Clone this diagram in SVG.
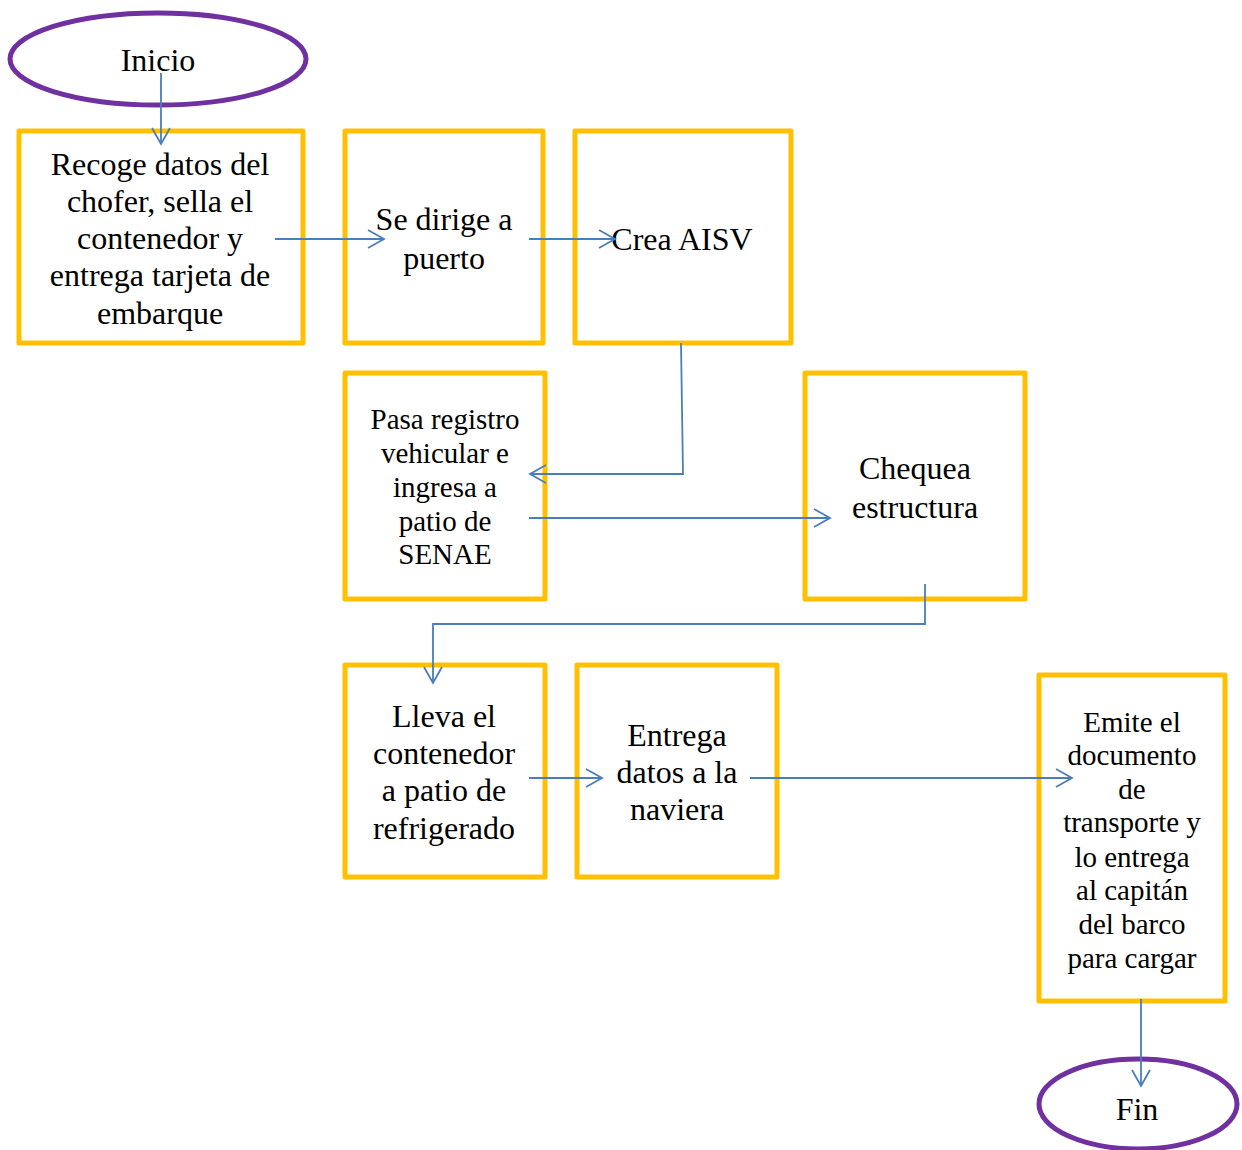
<svg xmlns="http://www.w3.org/2000/svg" width="1242" height="1150" viewBox="0 0 1242 1150">
<defs>
<style>
.box{fill:#fff;stroke:#FFC000;stroke-width:5;stroke-linejoin:round}
.term{fill:#fff;stroke:#7030A0;stroke-width:5}
.t{font-family:"Liberation Serif","Times New Roman",serif;fill:#000;text-anchor:middle}
.l{font-size:32px}
.s{font-size:29px}
.c{fill:none;stroke:#4A7EBB;stroke-width:1.8;marker-end:url(#a)}
</style>
<marker id="a" markerWidth="20" markerHeight="20" refX="17" refY="10" orient="auto" markerUnits="userSpaceOnUse">
<path d="M1,1 L17,10 L1,19" fill="none" stroke="#4A7EBB" stroke-width="1.8"/>
</marker>
</defs>
<rect width="1242" height="1150" fill="#fff"/>
<g id="inicio"><ellipse class="term" cx="158" cy="59" rx="148" ry="46"/><text class="t l" x="158" y="71">Inicio</text></g>
<g id="recoge"><rect class="box" x="19" y="131" width="284" height="212"/>
<text class="t l"><tspan x="160" y="175">Recoge datos del</tspan><tspan x="160" y="212">chofer, sella el</tspan><tspan x="160" y="249">contenedor y</tspan><tspan x="160" y="286">entrega tarjeta de</tspan><tspan x="160" y="324">embarque</tspan></text></g>
<g id="dirige"><rect class="box" x="345" y="131" width="198" height="212"/>
<text class="t l"><tspan x="444" y="230">Se dirige a</tspan><tspan x="444" y="269">puerto</tspan></text></g>
<g id="crea"><rect class="box" x="575" y="131" width="216" height="212"/>
<text class="t l" x="682" y="250">Crea AISV</text></g>
<g id="pasa"><rect class="box" x="345" y="373" width="200" height="226"/>
<text class="t s"><tspan x="445" y="429">Pasa registro</tspan><tspan x="445" y="463">vehicular e</tspan><tspan x="445" y="497">ingresa a</tspan><tspan x="445" y="531">patio de</tspan><tspan x="445" y="564">SENAE</tspan></text></g>
<g id="chequea"><rect class="box" x="805" y="373" width="220" height="226"/>
<text class="t l"><tspan x="915" y="479">Chequea</tspan><tspan x="915" y="518">estructura</tspan></text></g>
<g id="lleva"><rect class="box" x="345" y="665" width="200" height="212"/>
<text class="t l"><tspan x="444" y="727">Lleva el</tspan><tspan x="444" y="764">contenedor</tspan><tspan x="444" y="801">a patio de</tspan><tspan x="444" y="839">refrigerado</tspan></text></g>
<g id="entrega"><rect class="box" x="577" y="665" width="200" height="212"/>
<text class="t l"><tspan x="677" y="746">Entrega</tspan><tspan x="677" y="783">datos a la</tspan><tspan x="677" y="820">naviera</tspan></text></g>
<g id="emite"><rect class="box" x="1039" y="675" width="186" height="326"/>
<text class="t s"><tspan x="1132" y="732">Emite el</tspan><tspan x="1132" y="765">documento</tspan><tspan x="1132" y="799">de</tspan><tspan x="1132" y="832">transporte y</tspan><tspan x="1132" y="867">lo entrega</tspan><tspan x="1132" y="900">al capitán</tspan><tspan x="1132" y="934">del barco</tspan><tspan x="1132" y="968">para cargar</tspan></text></g>
<g id="fin"><ellipse class="term" cx="1138" cy="1104" rx="99" ry="45"/><text class="t l" x="1137" y="1120">Fin</text></g>
<g id="connectors">
<path class="c" d="M161,73 V144"/>
<path class="c" d="M275,239 H384"/>
<path class="c" d="M529,239 H615"/>
<path class="c" d="M681,343 L683,474 H530"/>
<path class="c" d="M529,518 H830"/>
<path class="c" d="M925,584 V624 H433 V683"/>
<path class="c" d="M529,778 H602"/>
<path class="c" d="M750,778 H1072"/>
<path class="c" d="M1141,999 V1086"/>
</g>
</svg>
